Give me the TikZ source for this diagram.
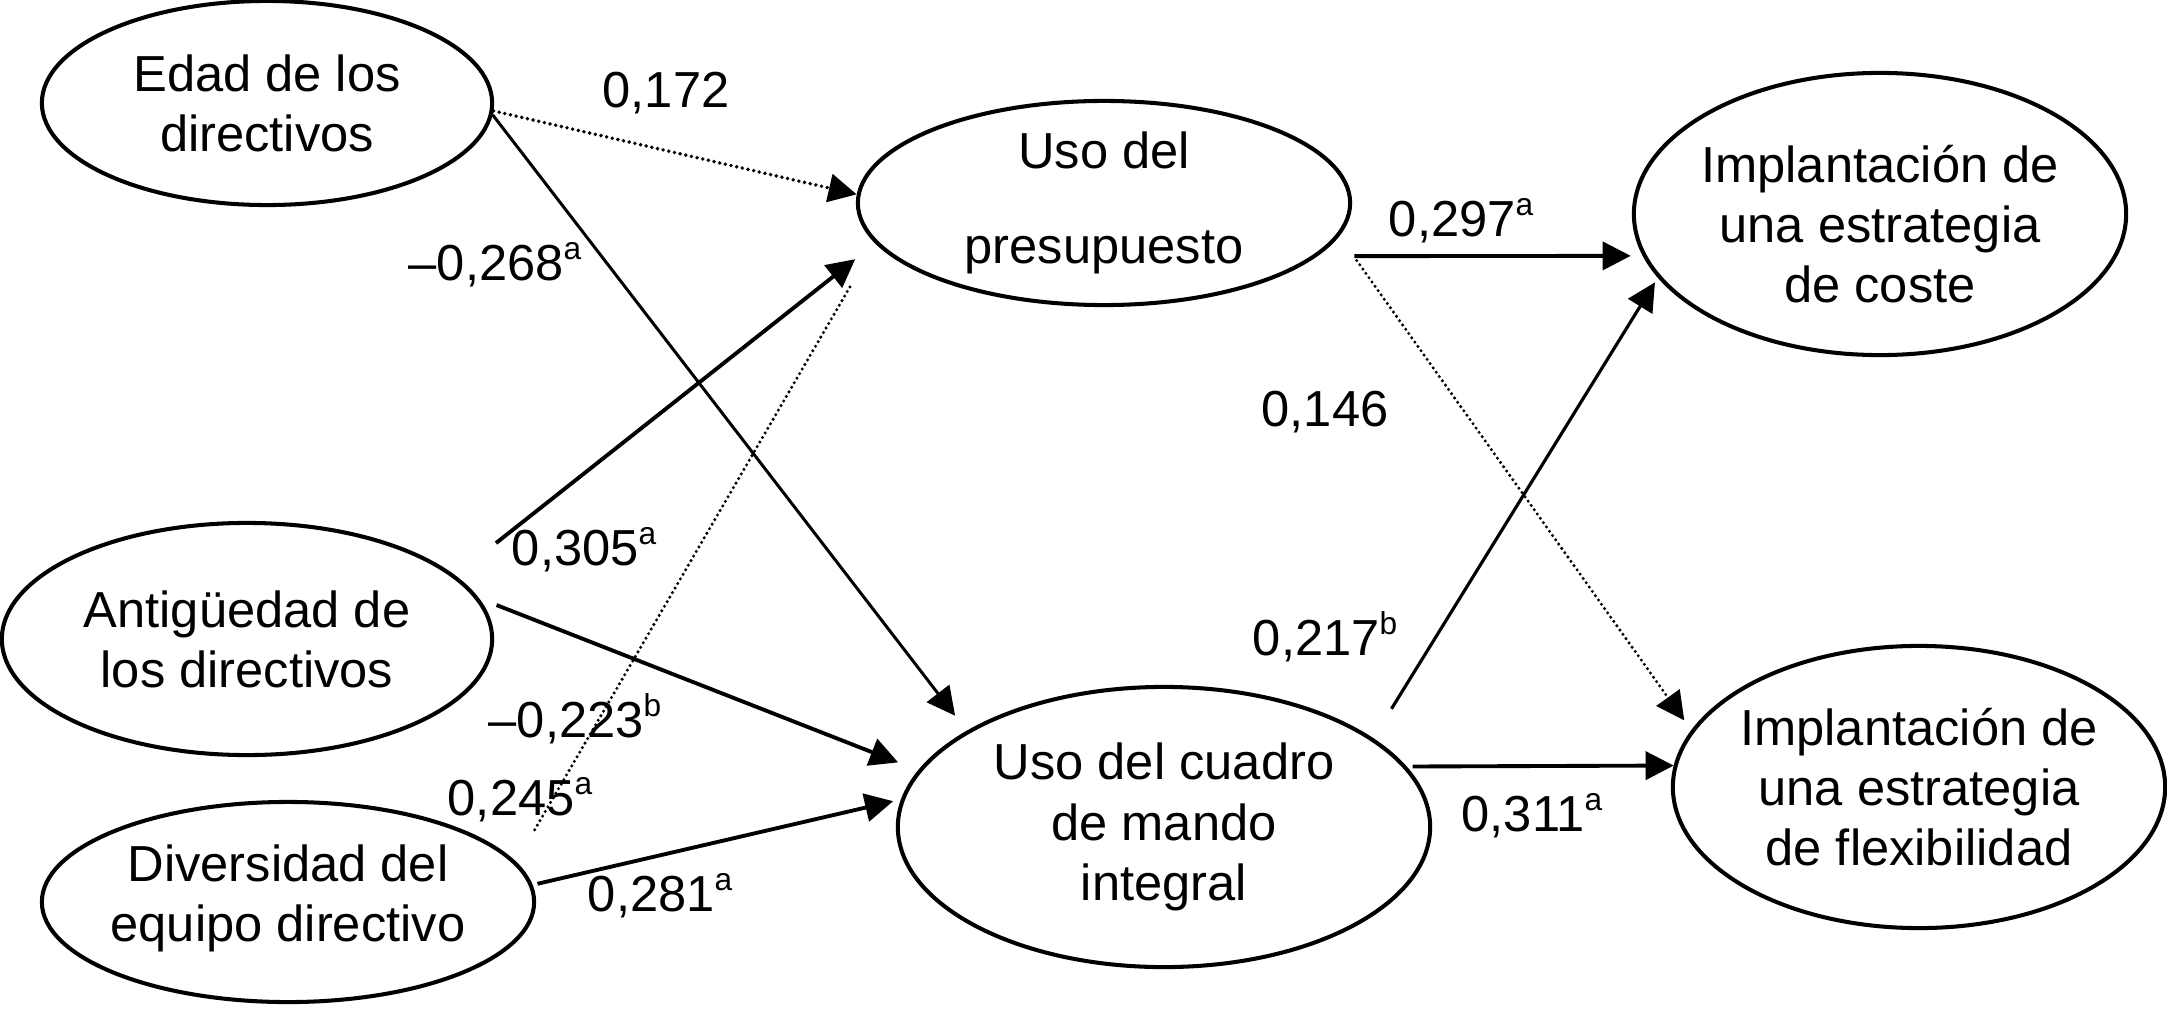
\documentclass[tikz,border=0pt]{standalone}
\usepackage{fontspec}
\setmainfont{Liberation Sans}
\usetikzlibrary{arrows.meta,shapes.geometric}
\newcommand\supx[1]{\raisebox{0.42em}{\fontsize{9}{9}\selectfont #1}}
\begin{document}
\begin{tikzpicture}[x=0.01cm,y=0.01cm,
  ell/.style={ellipse,draw,line width=1.15pt,inner sep=0pt},
  txt/.style={align=center,font=\fontsize{14.4}{17.1}\selectfont,inner sep=0pt},
  num/.style={font=\fontsize{14.4}{17.1}\selectfont,inner sep=0pt},
  arr/.style={line width=1.1pt,-{Triangle[length=8pt,width=8pt]}},
  darr/.style={line width=1.1pt,line cap=round,dash pattern=on 0pt off 1.65pt,-{Triangle[length=8pt,width=8pt]}},
]
\useasboundingbox (0,0) rectangle (2167,1017);

% nodes
\node[ell,minimum width=4.50cm,minimum height=2.04cm,label={[txt]center:Edad de los\\directivos}] (edad) at (267,914) {};
\node[ell,minimum width=4.92cm,minimum height=2.04cm,label={[txt,font=\fontsize{14.4}{27}\selectfont]center:Uso del\\presupuesto}] (pres) at (1104,814) {};
\node[ell,minimum width=4.92cm,minimum height=2.82cm,label={[txt,yshift=-0.1cm]center:Implantación de\\una estrategia\\de coste}] (coste) at (1880,803) {};
\node[ell,minimum width=4.90cm,minimum height=2.32cm,label={[txt]center:Antigüedad de\\los directivos}] (ant) at (247,378) {};
\node[ell,minimum width=4.92cm,minimum height=2.00cm,label={[txt,yshift=0.04cm]center:Diversidad del\\equipo directivo}] (div) at (288,115) {};
\node[ell,minimum width=5.32cm,minimum height=2.80cm,label={[txt]center:Uso del cuadro\\de mando\\integral}] (cuad) at (1164,190) {};
\node[ell,minimum width=4.92cm,minimum height=2.82cm,label={[txt]center:Implantación de\\una estrategia\\de flexibilidad}] (flex) at (1919,230) {};

% connectors
\draw[darr] (edad.-2.5) -- (pres.178);
\draw[arr,line width=0.85pt,shorten >=0.19cm] (edad.-3) -- (cuad.154.6);
\draw[arr,shorten <=0.52cm,shorten >=0.255cm] (ant.17.5) -- (pres.190.1);
\draw[darr,-,line width=0.95pt,dash pattern=on 0pt off 1.5pt,shorten <=0.37cm,shorten >=0.47cm] (div.10.1) -- (pres.190.1);
\draw[arr,shorten <=0.19cm,shorten >=0.215cm] (ant.10.7) -- (cuad.167);
\draw[arr,shorten <=0.05cm,shorten >=0.08cm] (div.4.5) -- (cuad.174.8);
\draw[arr,shorten <=0.37cm,shorten >=0.12cm] (pres.-14.9) -- (coste.190.66);
\draw[darr,line width=0.95pt,dash pattern=on 0pt off 1.5pt,shorten <=0.30cm,shorten >=0.12cm] (pres.-8.8) -- (flex.166.5);
\draw[arr,line width=0.9pt,shorten <=0.345cm,shorten >=0.055cm] (cuad.23.4) -- (coste.196.4);
\draw[arr,shorten <=0.06cm] (cuad.14.3) -- (flex.175.07);

% coefficients
\node[num] (l172) at (666,924) {0,172};
\node[num] (l268) at (495,752) {–0,268\supx{a}};
\node[num] (l305) at (584,467) {0,305\supx{a}};
\node[num] (l223) at (575,298) {–0,223\supx{b}};
\node[num] (l245) at (520,217) {0,245\supx{a}};
\node[num] (l281) at (660,121) {0,281\supx{a}};
\node[num] (l297) at (1461,796) {0,297\supx{a}};
\node[num] (l146) at (1325,605) {0,146};
\node[num] (l217) at (1325,380) {0,217\supx{b}};
\node[num] (l311) at (1532,201) {0,311\supx{a}};
\end{tikzpicture}
\end{document}
